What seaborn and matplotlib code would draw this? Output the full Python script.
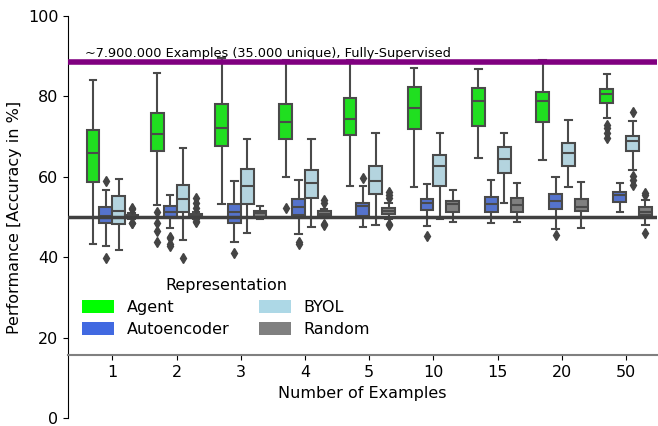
import numpy as np
import pandas as pd
import matplotlib
matplotlib.use("Agg")
import matplotlib.pyplot as plt
from matplotlib.patches import Patch
import seaborn as sns

plt.rcParams['font.family'] = ['DejaVu Sans']
plt.rcParams['font.size'] = 11.5

examples = ["1", "2", "3", "4", "5", "10", "15", "20", "50"]
representations = ["Agent", "Autoencoder", "BYOL", "Random"]
colors = ["lime", "royalblue", "lightblue", "gray"]

# Box summaries: whisker low, Q1, median, Q3, whisker high
agent_lo  = [43.4, 52.9, 53.2, 60.0, 57.8, 57.5, 64.6, 64.2, 74.6]
agent_q1  = [58.6, 66.5, 67.7, 69.3, 70.3, 71.9, 72.6, 73.7, 78.4]
agent_med = [65.8, 70.6, 72.2, 73.6, 74.3, 77.0, 78.9, 78.9, 80.6]
agent_q3  = [71.6, 75.8, 78.0, 78.0, 79.5, 82.3, 82.2, 81.0, 81.8]
agent_hi  = [84.1, 85.7, 89.5, 89.0, 89.0, 87.1, 86.7, 89.0, 85.6]
agent_fl  = [[], [51.3, 48.4, 46.6, 43.9], [], [52.2], [], [], [], [], [72.9, 72.1, 70.8, 69.6]]

ae_lo  = [42.8, 47.2, 43.8, 45.8, 47.6, 47.8, 48.4, 46.9, 51.2]
ae_q1  = [48.4, 49.9, 48.6, 50.4, 50.2, 51.7, 51.3, 52.0, 53.7]
ae_med = [50.2, 51.3, 51.3, 52.6, 52.8, 53.4, 53.2, 54.0, 55.5]
ae_q3  = [52.4, 52.7, 53.3, 54.6, 53.4, 54.6, 54.9, 55.6, 56.1]
ae_hi  = [56.7, 55.5, 58.9, 59.2, 57.8, 58.2, 59.2, 60.0, 58.4]
ae_fl  = [[59.0, 39.7], [45.1, 44.7, 42.8, 43.2], [41.0], [43.8, 43.4], [59.6], [45.3], [], [45.5], []]

byol_lo  = [41.8, 44.3, 45.9, 47.4, 48.0, 49.4, 53.6, 57.4, 61.7]
byol_q1  = [48.3, 51.3, 53.2, 54.7, 55.6, 57.8, 60.9, 62.7, 66.4]
byol_med = [51.4, 54.6, 57.8, 58.5, 59.0, 62.7, 64.4, 65.8, 68.9]
byol_q3  = [55.1, 57.9, 61.9, 61.7, 62.7, 65.4, 67.5, 68.3, 70.2]
byol_hi  = [59.5, 67.2, 69.3, 69.5, 71.0, 70.8, 71.0, 74.1, 73.9]
byol_fl  = [[], [39.7], [], [], [], [], [], [], [76.2, 60.2, 59.2, 58.0]]

rand_lo  = [49.4, 49.6, 49.5, 49.8, 49.6, 48.8, 48.8, 47.2, 48.0]
rand_q1  = [49.8, 50.0, 50.1, 50.3, 50.7, 51.3, 51.3, 51.5, 50.5]
rand_med = [50.2, 50.3, 50.9, 50.8, 51.6, 53.2, 53.0, 52.6, 51.3]
rand_q3  = [50.6, 50.7, 51.4, 51.5, 52.2, 54.1, 54.7, 54.5, 52.4]
rand_hi  = [51.0, 51.2, 52.8, 52.0, 53.6, 56.7, 58.4, 58.6, 54.2]
rand_fl  = [[48.4, 48.5, 51.9, 52.2], [48.8, 48.9, 52.2, 53.4, 54.8], [], [48.3, 48.0, 53.6, 54.2],
            [54.7, 55.5, 56.3, 48.3, 48.0], [], [], [], [55.5, 56.0, 46.1]]

supervised_level = 88.5
chance_level = 50.0

summaries = {
    "Agent": (agent_lo, agent_q1, agent_med, agent_q3, agent_hi, agent_fl),
    "Autoencoder": (ae_lo, ae_q1, ae_med, ae_q3, ae_hi, ae_fl),
    "BYOL": (byol_lo, byol_q1, byol_med, byol_q3, byol_hi, byol_fl),
    "Random": (rand_lo, rand_q1, rand_med, rand_q3, rand_hi, rand_fl),
}

# Rebuild samples whose quartiles / whiskers / outliers reproduce the read summaries
rows = []
m = 20
for rep, (lo, q1, med, q3, hi, fl) in summaries.items():
    for i, ex in enumerate(examples):
        vals = [lo[i]] + [q1[i]] * m + [med[i]] * m + [q3[i]] * m + [hi[i]] + list(fl[i])
        for v in vals:
            rows.append((ex, rep, v))
df = pd.DataFrame(rows, columns=["examples", "rep", "acc"])

fig = plt.figure(figsize=(6.58, 4.26), dpi=100)
ax = fig.add_axes([68 / 658, 8 / 426, 589 / 658, 402 / 426])

sns.boxplot(data=df, x="examples", y="acc", hue="rep", order=examples,
            hue_order=representations, palette=dict(zip(representations, colors)),
            whis=1.5, width=0.8, linewidth=1.5, linecolor="#4a4a4a",
            flierprops=dict(marker="d", markerfacecolor="#444444", markeredgecolor="#444444",
                            markersize=5),
            legend=False, ax=ax)

ax.axhline(supervised_level, color="purple", lw=4, zorder=5)
ax.axhline(chance_level, color="#404040", lw=2.5, zorder=5)
ax.text(-0.43, 89.8, "~7.900.000 Examples (35.000 unique), Fully-Supervised",
        fontsize=9.3, va="baseline", ha="left")

ax.set_ylim(0, 100)
ax.set_xlim(-0.69, 8.48)
ax.set_yticks([0, 20, 40, 60, 80, 100])
ax.set_xlabel("Number of Examples")
ax.set_ylabel("Performance [Accuracy in %]")

ax.spines["top"].set_visible(False)
ax.spines["right"].set_visible(False)
ax.spines["bottom"].set_position(("data", 15.6))
ax.spines["bottom"].set_color("gray")
ax.spines["bottom"].set_linewidth(1.5)

handles = [Patch(facecolor=c, edgecolor="none", label=r) for r, c in zip(representations, colors)]
ax.legend(handles=handles, title="Representation", ncol=2, frameon=False,
          loc="upper left", bbox_to_anchor=(0.0, 0.385), handlelength=2.0,
          handleheight=0.9, columnspacing=1.8, labelspacing=0.45)

fig.savefig("out.png", dpi=100)
